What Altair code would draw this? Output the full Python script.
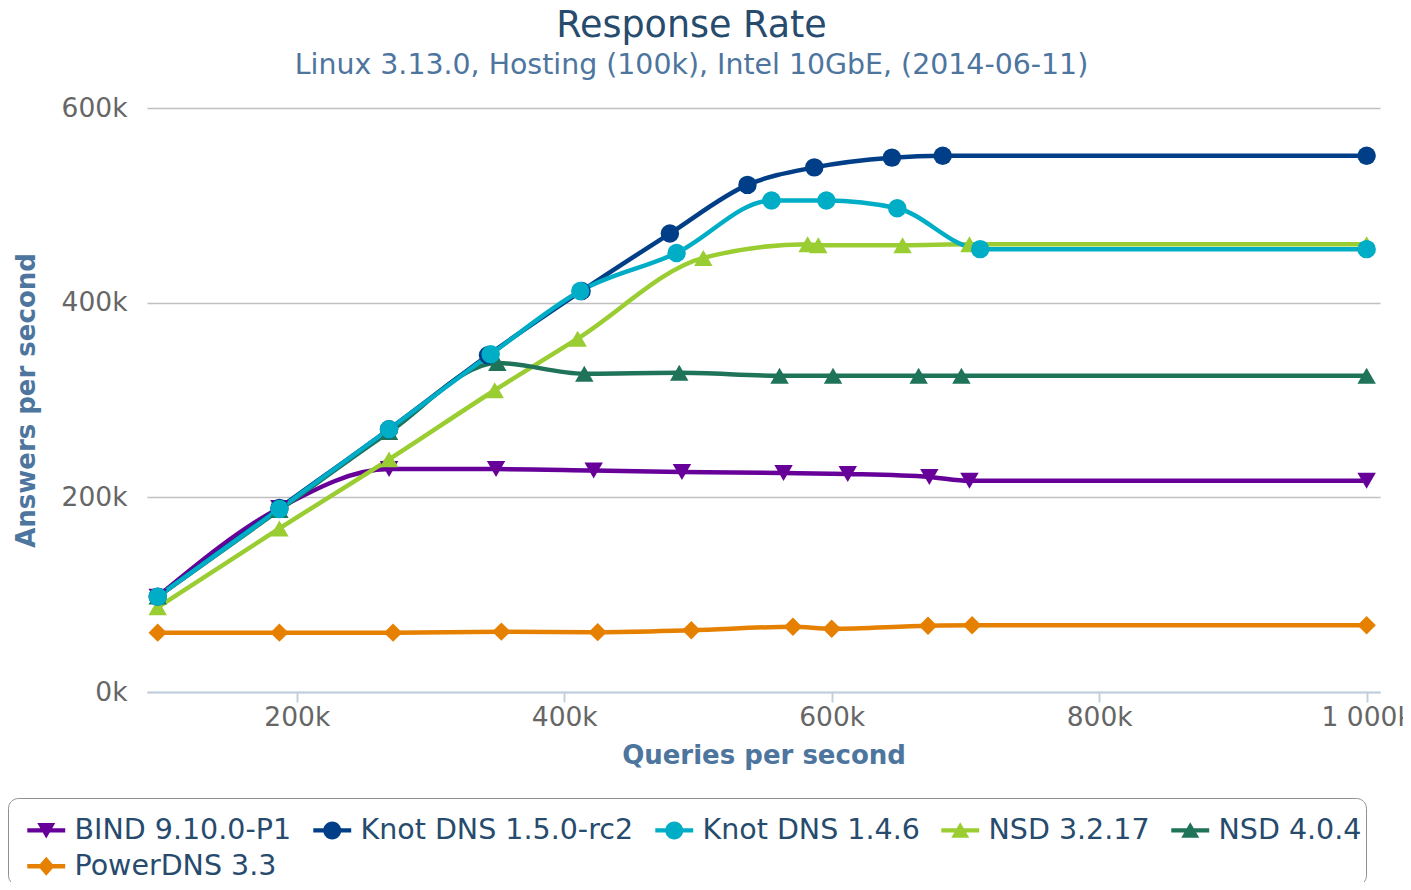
import altair as alt
import pandas as pd

series = ["BIND 9.10.0-P1", "Knot DNS 1.5.0-rc2", "Knot DNS 1.4.6",
          "NSD 3.2.17", "NSD 4.0.4", "PowerDNS 3.3"]
colors = ["#660099", "#003f87", "#00adc6", "#9acd32", "#1e7358", "#e68000"]
shapes = ["triangle-down", "circle", "circle", "triangle-up", "triangle-up", "diamond"]

# values in thousands (queries per second, answers per second)
bind_x = [96, 187, 269, 349, 422, 488, 564, 612, 673, 703, 1000]
bind_y = [98, 189, 229, 229, 227.5, 226, 225, 224, 221, 217, 217]

knot15_x = [96, 187, 269, 343, 413, 479, 537, 587, 645, 683, 1000]
knot15_y = [98, 189, 270, 346, 412, 471, 521, 539, 549, 551, 551]

knot146_x = [96, 187, 269, 345, 412, 484, 555, 596, 649, 711, 1000]
knot146_y = [98, 188, 270, 347, 412, 451, 505, 505, 497, 455, 455]

nsd3_x = [96, 187, 269, 348, 410, 504, 582, 590, 653, 703, 1000]
nsd3_y = [87, 168, 239, 310, 363, 446, 460, 459, 459, 460, 460]

nsd4_x = [96, 187, 269, 350, 415, 486, 561, 601, 665, 697, 1000]
nsd4_y = [98, 187, 267, 338, 327, 328, 325, 325, 325, 325, 325]

pdns_x = [96, 187, 272, 353, 425, 495, 571, 600, 672, 705, 1000]
pdns_y = [61, 61, 61, 62, 61.5, 63.5, 67, 65, 68, 68.5, 68.5]

xs = [bind_x, knot15_x, knot146_x, nsd3_x, nsd4_x, pdns_x]
ys = [bind_y, knot15_y, knot146_y, nsd3_y, nsd4_y, pdns_y]

# drawing order (later drawn on top)
draw_order = [5, 0, 3, 4, 1, 2]
rows = []
for i in draw_order:
    for x, y in zip(xs[i], ys[i]):
        rows.append({"series": series[i], "qps": x, "aps": y, "z": draw_order.index(i)})
df = pd.DataFrame(rows)

# legend symbols: short line with marker (normalised units, 1 unit = 12 px)
line = "M-1.58,-0.18L1.58,-0.18L1.58,0.18L-1.58,0.18Z"
circ = "M-0.75,0A0.75,0.75 0 1,1 0.75,0A0.75,0.75 0 1,1 -0.75,0Z"
tdown = "M-0.75,-0.62L0.75,-0.62L0,0.68Z"
tup = "M0,-0.68L0.75,0.62L-0.75,0.62Z"
diam = "M0,-0.8L0.68,0L0,0.8L-0.68,0Z"
legend_paths = [line + tdown, line + circ, line + circ, line + tup, line + tup, line + diam]

FONT = "DejaVu Sans"

xenc = alt.X("qps:Q", scale=alt.Scale(domain=[88, 1010], nice=False, zero=False),
             axis=alt.Axis(values=[200, 400, 600, 800, 1000],
                           labelExpr="replace(format(datum.value, ','), ',', ' ') + 'k'",
                           grid=False, domainColor="#C0D0E0", domainWidth=2,
                           tickColor="#C0D0E0", tickSize=10, tickWidth=2,
                           labelFont=FONT, labelFontSize=26.5, labelColor="#666666",
                           labelPadding=2, labelFlush=False,
                           title="Queries per second", titleFont=FONT, titleFontSize=26,
                           titleFontWeight="bold", titleColor="#4d759e", titlePadding=12))
yenc = alt.Y("aps:Q", scale=alt.Scale(domain=[0, 600], nice=False),
             axis=alt.Axis(values=[0, 200, 400, 600], labelExpr="datum.value + 'k'",
                           grid=True, gridColor="#C0C0C0", gridWidth=1.5,
                           domain=False, ticks=False,
                           labelFont=FONT, labelFontSize=26.5, labelColor="#666666",
                           labelPadding=20,
                           title="Answers per second", titleFont=FONT, titleFontSize=26,
                           titleFontWeight="bold", titleColor="#4d759e", titlePadding=22))

col_nolegend = alt.Color("series:N", scale=alt.Scale(domain=series, range=colors), legend=None)

lines = alt.Chart(df).mark_line(interpolate="monotone", strokeWidth=4.5).encode(
    x=xenc, y=yenc, color=col_nolegend, order=alt.Order("qps:Q"))

points = alt.Chart(df).mark_point(filled=True, opacity=1, size=340).encode(
    x=xenc, y=yenc, color=col_nolegend,
    shape=alt.Shape("series:N", scale=alt.Scale(domain=series, range=shapes), legend=None),
    order=alt.Order("z:Q"))

leg = alt.Legend(orient="none", legendX=-139, legendY=690, direction="horizontal",
                 columns=5, symbolSize=576, symbolStrokeWidth=0, symbolOpacity=1,
                 symbolOffset=20, labelOffset=14, labelLimit=600,
                 labelFont=FONT, labelFontSize=28.5, labelColor="#274b6d",
                 strokeColor="#909090", cornerRadius=10, padding=4,
                 columnPadding=6, rowPadding=7,
                 title=" ", titleFontSize=12, titlePadding=2)

legend_layer = alt.Chart(df).transform_filter("false").mark_point(filled=True, opacity=1).encode(
    x=xenc, y=yenc,
    color=alt.Color("series:N", scale=alt.Scale(domain=series, range=colors), legend=leg),
    shape=alt.Shape("series:N", scale=alt.Scale(domain=series, range=legend_paths), legend=leg))

chart = alt.layer(lines, points, legend_layer).resolve_scale(
    color="independent", shape="independent"
).properties(
    width=1233, height=584,
    autosize=alt.AutoSizeParams(type="none"),
    padding={"left": 139, "top": 100, "right": 23, "bottom": 190},
    title=alt.TitleParams(
        text="Response Rate", subtitle="Linux 3.13.0, Hosting (100k), Intel 10GbE, (2014-06-11)",
        font=FONT, fontSize=36.5, fontWeight="normal", color="#274b6d",
        subtitleFont=FONT, subtitleFontSize=28.4, subtitleColor="#4d759e",
        anchor="middle", frame="group", dx=-72, offset=16, subtitlePadding=7),
).configure_view(stroke=None)

chart.save("out.html", embed_options={"renderer": "svg", "actions": False})
